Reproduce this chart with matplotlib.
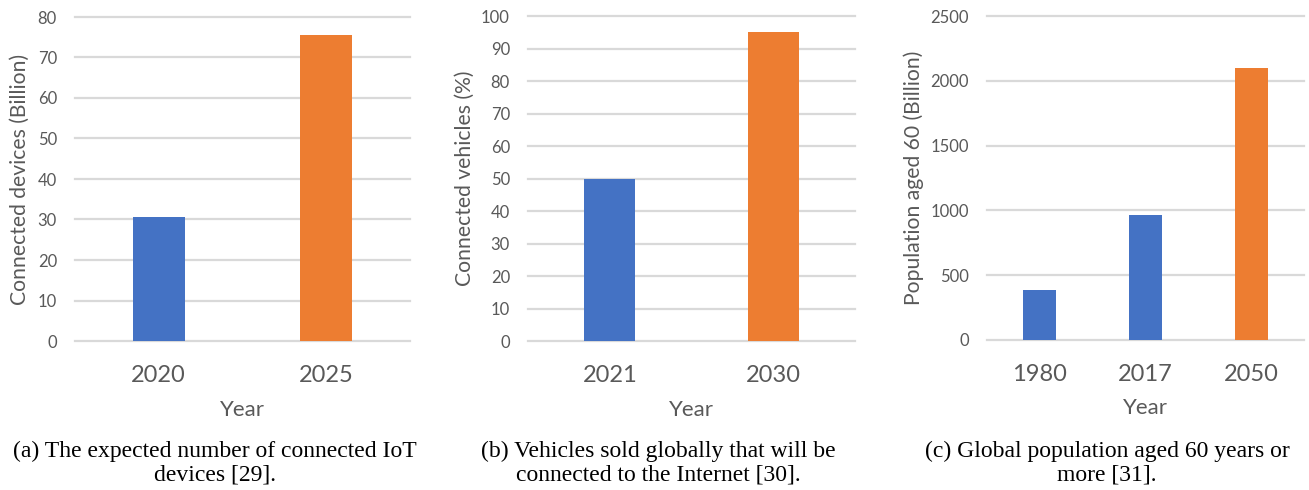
import matplotlib
matplotlib.use("Agg")
import matplotlib.pyplot as plt

# IoT devices (billions)
iot_years = ["2020", "2025"]
iot_values = [30.73, 75.44]

# connected vehicles (% of sales)
car_years = ["2021", "2030"]
car_values = [50, 95]

# population aged 60+
pop_years = ["1980", "2017", "2050"]
pop_values = [382, 962, 2100]

BLUE = "#4472C4"
ORANGE = "#ED7D31"
GRAY = "#595959"
GRID = "#D9D9D9"

W, H = 1309, 490
fig = plt.figure(figsize=(W / 100, H / 100), dpi=100)


def make_axes(left, right, top, bottom):
    return fig.add_axes([left / W, (H - bottom) / H, (right - left) / W, (bottom - top) / H])


def bar_panel(ax, years, values, colors, ymax, step, ylabel, label_x):
    x = range(len(years))
    ax.bar(x, values, width=0.31, color=colors, zorder=3)
    ax.set_xlim(-0.5, len(years) - 0.5)
    ax.set_ylim(0, ymax)
    ax.set_yticks(range(0, ymax + 1, step))
    ax.set_xticks(list(x))
    ax.set_xticklabels(years)
    for s in ax.spines.values():
        s.set_visible(False)
    ax.grid(axis="y", color=GRID, linewidth=1.6, zorder=0)
    for gl in ax.get_ygridlines():
        gl.set_clip_on(False)
    ax.tick_params(axis="y", length=0, pad=13, labelsize=12, labelcolor=GRAY)
    ax.tick_params(axis="x", length=0, pad=17, labelsize=17, labelcolor=GRAY)
    ax.set_xlabel("Year", fontsize=16, color=GRAY, labelpad=10)
    ax.set_ylabel(ylabel, fontsize=15.2, color=GRAY)
    # label_x is the pixel column of the label's right-hand edge
    bb = ax.get_position()
    ax.yaxis.set_label_coords((label_x / W - bb.x0) / bb.width, 0.5)


plt.rcParams["font.family"] = ["Lato", "DejaVu Sans"]

ax1 = make_axes(75, 410, 17, 341)
bar_panel(ax1, iot_years, iot_values, [BLUE, ORANGE], 80, 10,
          "Connected devices (Billion)", 30)

ax2 = make_axes(528, 855, 16, 341)
bar_panel(ax2, car_years, car_values, [BLUE, ORANGE], 100, 10,
          "Connected vehicles (%)", 475)

ax3 = make_axes(987, 1304, 16, 340)
bar_panel(ax3, pop_years, pop_values, [BLUE, BLUE, ORANGE], 2500, 500,
          "Population aged 60 (Billion)", 924)

captions = [
    (215, "(a) The expected number of connected IoT\ndevices [29]."),
    (658, "(b) Vehicles sold globally that will be\nconnected to the Internet [30]."),
    (1107, "(c) Global population aged 60 years or\nmore [31]."),
]
for cx, txt in captions:
    fig.text(cx / W, 1 - 463 / H, txt, ha="center", va="center",
             multialignment="center", fontsize=17, family="Liberation Serif",
             linespacing=1.15, color="black")

plt.savefig("out.png", dpi=100)
plt.close()
